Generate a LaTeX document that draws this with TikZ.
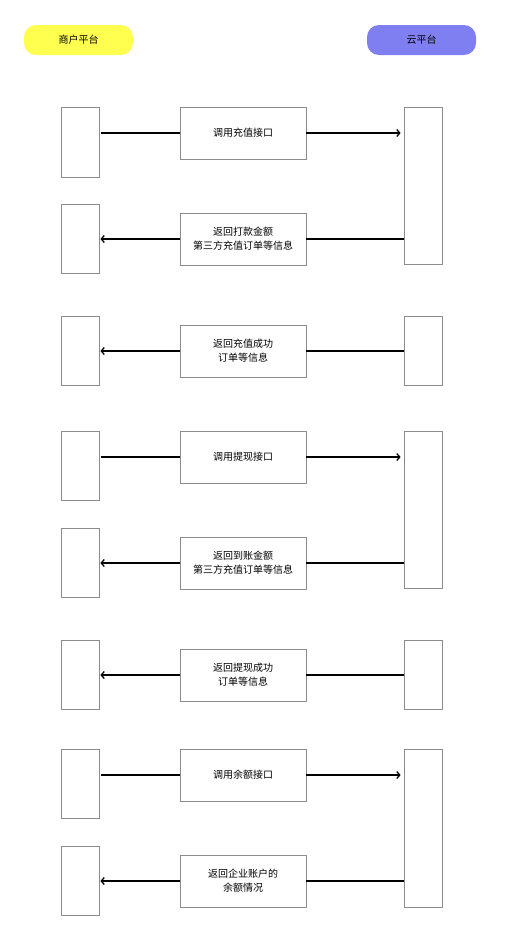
\documentclass[tikz,border=0pt]{standalone}
\usepackage{fontspec}
\newfontfamily\cjk{Noto Sans CJK SC}
\usetikzlibrary{arrows.meta}
\definecolor{headyellow}{HTML}{FFFF50}
\definecolor{headblue}{HTML}{7F7FF2}
\definecolor{boxgray}{HTML}{8C8C8C}

\begin{document}
\begin{tikzpicture}[x=1pt,y=-1pt,
    lane/.style={draw=boxgray, line width=0.8pt, minimum width=38pt, inner sep=0pt},
    msgbox/.style={draw=boxgray, line width=0.8pt, minimum width=126pt, minimum height=52pt,
        inner sep=0pt, align=center, font=\cjk\fontsize{10}{14}\selectfont},
    head/.style={rounded corners=12pt, minimum width=109pt, minimum height=30pt,
        inner sep=0pt, font=\cjk\fontsize{10}{12}\selectfont},
    call/.style={line width=1.3pt, -{Straight Barb[length=3pt,width=7pt]}},
    line/.style={line width=1.3pt}
]

\useasboundingbox (0,0) rectangle (508,938);

% 1. Headers
\node[head, fill=headyellow] (shop) at (78.5,40) {商户平台};
\node[head, fill=headblue] (cloud) at (421.5,40) {云平台};

% 2. Merchant lanes
\node[lane, minimum height=70pt] (m1) at (80,142) {};
\node[lane, minimum height=69pt] (m2) at (80,238.5) {};
\node[lane, minimum height=69pt] (m3) at (80,351) {};
\node[lane, minimum height=69pt] (m4) at (80,466) {};
\node[lane, minimum height=69pt] (m5) at (80,562.5) {};
\node[lane, minimum height=69pt] (m6) at (80,675) {};
\node[lane, minimum height=69pt] (m7) at (80,784) {};
\node[lane, minimum height=69pt] (m8) at (80,881) {};

% 3. Cloud lanes
\node[lane, minimum height=157pt] (c1) at (423,185.5) {};
\node[lane, minimum height=69pt] (c3) at (423,351) {};
\node[lane, minimum height=157pt] (c4) at (423,509.5) {};
\node[lane, minimum height=69pt] (c6) at (423,675) {};
\node[lane, minimum height=158pt] (c7) at (423,828) {};

% 4. Messages
\node[msgbox] (msg1) at (243,133) {调用充值接口};
\node[msgbox] (msg2) at (243,239) {返回打款金额\\第三方充值订单等信息};
\node[msgbox] (msg3) at (243,351) {返回充值成功\\订单等信息};
\node[msgbox] (msg4) at (243,457) {调用提现接口};
\node[msgbox] (msg5) at (243,563) {返回到账金额\\第三方充值订单等信息};
\node[msgbox] (msg6) at (243,675) {返回提现成功\\订单等信息};
\node[msgbox] (msg7) at (243,775) {调用余额接口};
\node[msgbox] (msg8) at (243,881) {返回企业账户的\\余额情况};

% 5. Calls to the cloud
\draw[line, shorten >=2pt] (msg1.west) -- (msg1.west -| m1.east);
\draw[call, shorten >=3pt] (msg1.east) -- (msg1.east -| c1.west);
\draw[line, shorten >=2pt] (msg4.west) -- (msg4.west -| m4.east);
\draw[call, shorten >=3pt] (msg4.east) -- (msg4.east -| c4.west);
\draw[line, shorten >=2pt] (msg7.west) -- (msg7.west -| m7.east);
\draw[call, shorten >=3pt] (msg7.east) -- (msg7.east -| c7.west);

% 6. Replies to the merchant
\draw[line] (msg2.east -| c1.west) -- (msg2.east);
\draw[call, shorten >=1pt] (msg2.west) -- (msg2.west -| m2.east);
\draw[line] (c3.west) -- (msg3.east);
\draw[call, shorten >=1pt] (msg3.west) -- (m3.east);
\draw[line] (msg5.east -| c4.west) -- (msg5.east);
\draw[call, shorten >=1pt] (msg5.west) -- (msg5.west -| m5.east);
\draw[line] (c6.west) -- (msg6.east);
\draw[call, shorten >=1pt] (msg6.west) -- (m6.east);
\draw[line] (msg8.east -| c7.west) -- (msg8.east);
\draw[call, shorten >=1pt] (msg8.west) -- (msg8.west -| m8.east);

\end{tikzpicture}
\end{document}
